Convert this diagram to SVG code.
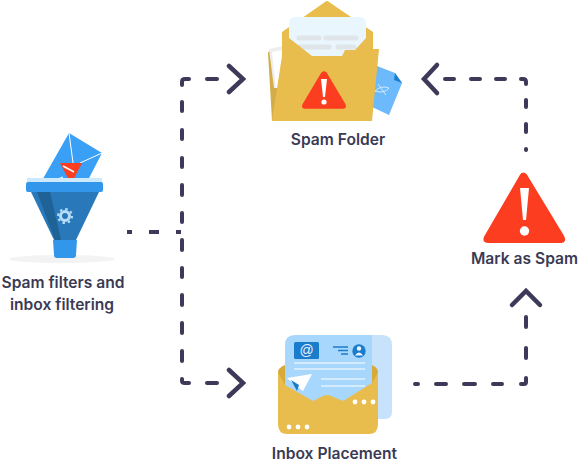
<svg xmlns="http://www.w3.org/2000/svg" width="578" height="465" viewBox="0 0 578 465">
<style>
.lbl{font-family:"Inter","Liberation Sans",sans-serif;font-size:15.6px;font-weight:600;fill:#3a3a55;text-anchor:middle}
.dash{fill:none;stroke:#3c3a58;stroke-width:4;stroke-linecap:round;stroke-linejoin:round}
.head{fill:none;stroke:#3c3a58;stroke-width:4.500;stroke-linecap:round;stroke-linejoin:miter}
.w{stroke:#fff;fill:none}
</style>
<g id="connectors">
<path class="dash" stroke-linecap="butt" style="stroke-linecap:butt" d="M127 232H132M149 232H159M176 232H181"/>
<path class="dash" d="M189 79H185Q182 79 182 82V85M207 79H217M182 102V111M182 130V139M182 158V167M182 185V195M182 213V222M182 240V250M182 268V277M182 295V305M182 323V333M182 351V361M182 379V381Q182 383 185 383H189M207 383H217"/>
<path class="head" d="M229 66L243 79L229 92M229 370L243 383L229 396"/>
<path class="dash" d="M415 384H418M436 384H446M464 384H475M493 384H502M521 384H524Q526 384 526 382V378M526 358V348M526 327V317"/>
<path class="head" d="M512 305L526 291L540 305"/>
<path class="dash" d="M526 150V149M526 132V124M526 107V100M526 84V82Q526 79 523 79H521M505 79H496M480 79H471M454 79H445"/>
<path class="head" d="M437 65L424 79L437 93"/>
</g>
<g id="spam-filters">
<ellipse cx="62" cy="259" rx="53" ry="4" fill="#f3f3f4"/>
<path d="M69 133L102 153L86 184H40Z" fill="#3aa0f5"/>
<path class="w" d="M69 133L74 170M102 153L80 163M49 182L63 177"/>
<path d="M60 163H82L72 182Q71 184 70 182Z" fill="#fc3d1f"/>
<path d="M63 166L74 172" stroke="#fff" stroke-width="1.500"/>
<rect x="27" y="178" width="75" height="6" fill="#cde9fc"/>
<rect x="26" y="182" width="77" height="10" rx="2" fill="#3297ea"/>
<path d="M31 192H99L76 240H54Z" fill="#2878ba"/>
<path d="M37 192H50L61 240H55Z" fill="#1f6296"/>
<path d="M53 240H77L76 255Q76 258 73 258H57Q54 258 54 255Z" fill="#3297ea"/>
<circle cx="65" cy="216" r="4.500" fill="none" stroke="#b7def9" stroke-width="3"/>
<circle cx="65" cy="216" r="7" fill="none" stroke="#b7def9" stroke-width="2" stroke-dasharray="2.500 3"/>
<text class="lbl" x="63" y="288">Spam filters and</text>
<text class="lbl" x="62" y="310">inbox filtering</text>
</g>
<g id="spam-folder">
<path d="M377 66L395 73L402 83L389 115L372 107Z" fill="#6cb9fb"/>
<path d="M395 73L402 83L394 80Z" fill="#1c7fce"/>
<path d="M375 91Q381 85 389 88Q384 94 375 91M378 84L386 95" fill="none" stroke="#e8f4fd" stroke-width="0.800"/>
<path d="M268 52L278 50L285 121H272Z" fill="#d3ad4a"/>
<path d="M269 49L283 46L284 88H274Z" fill="#eeeeee"/>
<path d="M272 52L283 50L284 88H276Z" fill="#ffffff"/>
<path d="M282 32L325 2Q327 0 329 2L373 32V60H282Z" fill="#e8bd4d"/>
<rect x="289" y="17" width="77" height="50" rx="6" fill="#eaf6fd"/>
<path d="M299 38H319M326 38H356M299 47H329M338 47H354" stroke="#dfe5e9" stroke-width="5" stroke-linecap="round"/>
<path d="M282 32L289 38L312 56H342L345 50H355L366 38L373 32V49H379L372 121H272L282 56Z" fill="#e8bd4d"/>
<path d="M322 73Q324 71 326 73L345 105Q346 108 343 108H305Q302 108 303 105Z" fill="#fc3d1f" stroke="#fc3d1f" stroke-width="1.500" stroke-linejoin="round"/>
<path d="M321 79H327L325 97H323Z" fill="#fff"/>
<circle cx="324" cy="102" r="2.600" fill="#fff"/>
<text class="lbl" x="338" y="145">Spam Folder</text>
</g>
<g id="mark-as-spam">
<path d="M521 175Q523 172 526 175L563 236Q566 242 561 242H488Q483 242 485 237Z" fill="#fc3d1f" stroke="#fc3d1f" stroke-width="2" stroke-linejoin="round"/>
<path d="M520 188H529L526 220H523Z" fill="#fff"/>
<circle cx="524.500" cy="231" r="4.700" fill="#fff"/>
<text class="lbl" x="524.500" y="264">Mark as Spam</text>
</g>
<g id="inbox-placement">
<path d="M370 335H382Q392 335 392 345V412Q392 419 385 419H370Z" fill="#c6e3fb"/>
<path d="M285 345Q285 335 295 335H372Q372 335 372 345V410H285Z" fill="#a8d7fd"/>
<rect x="294" y="342" width="25" height="17" rx="1.500" fill="#1b7ccc"/>
<text x="306.500" y="355" font-family="Liberation Sans,sans-serif" font-size="14" fill="#e6f3fc" text-anchor="middle">@</text>
<path d="M333 347H348M338 350.500H348M341 354H348" stroke="#1b7ccc" stroke-width="1.300"/>
<circle cx="359" cy="351" r="6.700" fill="#1b7ccc"/>
<circle cx="359" cy="348.500" r="2.200" fill="#eaf5fd"/>
<path d="M355 355.500Q359 349.500 363 355.500Z" fill="#eaf5fd"/>
<path d="M294 363H365M294 369H365M321 379H365M321 386H365" class="w" stroke-width="1.200"/>
<path d="M287 378L312 374L303 391L295 385Z" fill="#fff"/>
<path d="M291 380L299 385L297 391Z" fill="#1b7ccc"/>
<path d="M278 372Q278 368 285 365V385L372 385V365Q378 368 378 372V385H278Z" fill="#d5a93a"/>
<path d="M278 372L285 385L313 401L323 396Q327 394 331 396L343 401L372 383L378 372V424Q378 434 369 434H287Q278 434 278 424Z" fill="#e8bd4d"/>
<circle cx="355" cy="402" r="2.400" fill="#fff"/><circle cx="364" cy="402" r="2.400" fill="#fff"/><circle cx="373" cy="402" r="2.400" fill="#fff"/>
<circle cx="289" cy="427" r="2.400" fill="#fff"/><circle cx="298" cy="427" r="2.400" fill="#fff"/><circle cx="307" cy="427" r="2.400" fill="#fff"/>
<text class="lbl" x="334.500" y="459">Inbox Placement</text>
</g>
</svg>
